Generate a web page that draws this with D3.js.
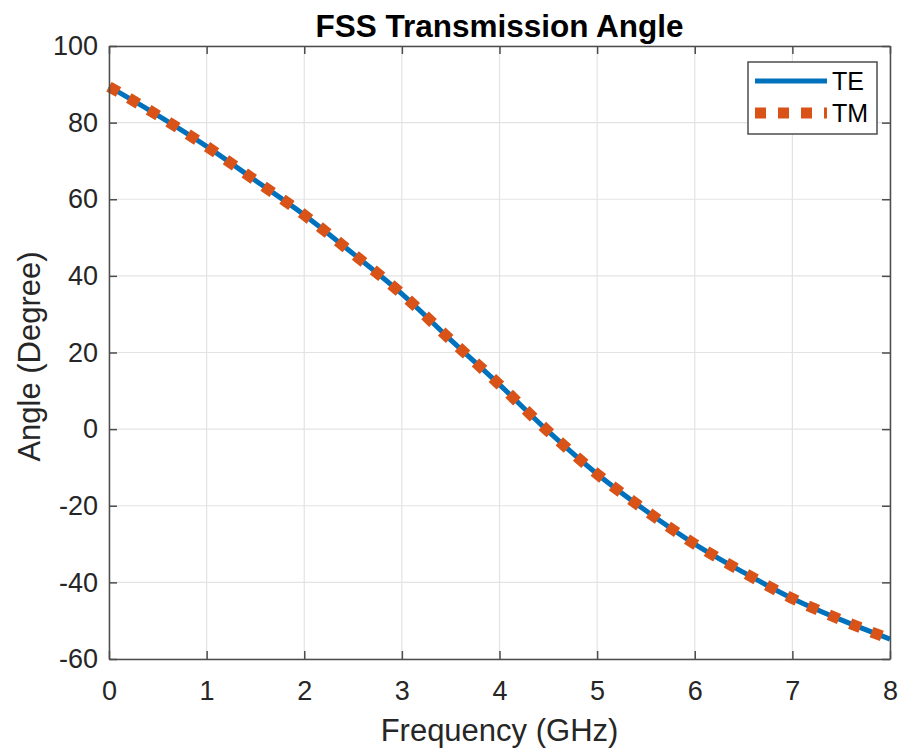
<!DOCTYPE html>
<html>
<head>
<meta charset="utf-8">
<script src="https://cdn.jsdelivr.net/npm/d3@7"></script>
<style>
  body { margin: 0; background: #fff; }
  text { font-family: "Liberation Sans", Arial, Helvetica, sans-serif; }
</style>
</head>
<body>
<div id="chart"></div>
<script>
// values (GHz, degree)
const freq = [0, 0.5, 1, 1.5, 2, 2.5, 3, 3.5, 4, 4.5, 5, 5.5, 6, 6.5, 7, 7.5, 8];
const teAngle = [89.4, 81.9, 73.8, 64.9, 55.9, 45.8, 35.3, 23.3, 11.6, -0.6, -11.7, -21.3, -30.0, -37.4, -44.2, -49.8, -54.8];
const tmAngle = [89.4, 81.9, 73.8, 64.9, 55.9, 45.8, 35.3, 23.3, 11.6, -0.6, -11.7, -21.3, -30.0, -37.4, -44.2, -49.8, -54.8];
const xTicks = [0, 1, 2, 3, 4, 5, 6, 7, 8];
const yTicks = [-60, -40, -20, 0, 20, 40, 60, 80, 100];
const seriesNames = ["TE", "TM"];

const W = 901, H = 749;
const margin = {top: 46, right: 11, bottom: 90, left: 109};
const width = W - margin.left - margin.right;
const height = H - margin.top - margin.bottom;

const svg = d3.select("#chart").append("svg")
    .attr("width", W)
    .attr("height", H);

const g = svg.append("g")
    .attr("transform", "translate(" + margin.left + "," + margin.top + ")");

const x = d3.scaleLinear().domain([0, 8]).range([0, width]);
const y = d3.scaleLinear().domain([-60, 100]).range([height, 0]);

// grid
g.append("g").selectAll("line").data(xTicks).join("line")
    .attr("x1", d => x(d)).attr("x2", d => x(d))
    .attr("y1", 0).attr("y2", height)
    .attr("stroke", "#e3e3e3").attr("stroke-width", 1.2);
g.append("g").selectAll("line").data(yTicks).join("line")
    .attr("x1", 0).attr("x2", width)
    .attr("y1", d => y(d)).attr("y2", d => y(d))
    .attr("stroke", "#e3e3e3").attr("stroke-width", 1.2);

// lines
const line = d3.line().curve(d3.curveMonotoneX);

g.append("path")
    .datum(freq.map((f, i) => [x(f), y(teAngle[i])]))
    .attr("d", line)
    .attr("fill", "none")
    .attr("stroke", "#0072BD")
    .attr("stroke-width", 5);

g.append("path")
    .datum(freq.map((f, i) => [x(f), y(tmAngle[i])]))
    .attr("d", line)
    .attr("fill", "none")
    .attr("stroke", "#D95319")
    .attr("stroke-width", 11)
    .attr("stroke-dasharray", "11 12");

// axes (ticks inside, box)
const axisColor = "#4d4d4d";
const tickLen = 8;
const fmt = d => String(d);   // plain hyphen minus like the reference
const xAxis = g.append("g")
    .attr("transform", "translate(0," + height + ")")
    .call(d3.axisBottom(x).tickValues(xTicks).tickFormat(fmt).tickSizeInner(-tickLen).tickSizeOuter(0));
const yAxis = g.append("g")
    .call(d3.axisLeft(y).tickValues(yTicks).tickFormat(fmt).tickSizeInner(-tickLen).tickSizeOuter(0));
const xTop = g.append("g")
    .call(d3.axisTop(x).tickValues(xTicks).tickSizeInner(-tickLen).tickSizeOuter(0).tickFormat(""));
const yRight = g.append("g")
    .attr("transform", "translate(" + width + ",0)")
    .call(d3.axisRight(y).tickValues(yTicks).tickSizeInner(-tickLen).tickSizeOuter(0).tickFormat(""));

[xAxis, yAxis, xTop, yRight].forEach(a => {
    a.select(".domain").attr("stroke", axisColor).attr("stroke-width", 1.5);
    a.selectAll(".tick line").attr("stroke", axisColor).attr("stroke-width", 1.5);
    a.selectAll(".tick text")
        .attr("fill", "#262626")
        .style("font-size", "27px")
        .style("font-family", "'Liberation Sans', Arial, sans-serif");
});
xAxis.selectAll(".tick text").attr("dy", "0.71em").attr("y", 22);
yAxis.selectAll(".tick text").attr("x", -11);

// title and labels
svg.append("text")
    .attr("x", margin.left + width / 2)
    .attr("y", 37)
    .attr("text-anchor", "middle")
    .style("font-size", "31.5px")
    .style("font-weight", "bold")
    .attr("fill", "#000")
    .text("FSS Transmission Angle");

svg.append("text")
    .attr("x", margin.left + width / 2)
    .attr("y", 741)
    .attr("text-anchor", "middle")
    .style("font-size", "31px")
    .attr("fill", "#262626")
    .text("Frequency (GHz)");

svg.append("text")
    .attr("transform", "translate(40," + (margin.top + height / 2 + 4) + ") rotate(-90)")
    .attr("text-anchor", "middle")
    .style("font-size", "31px")
    .attr("fill", "#262626")
    .text("Angle (Degree)");

// legend
const legend = svg.append("g").attr("transform", "translate(748,62)");
legend.append("rect")
    .attr("width", 129).attr("height", 72)
    .attr("fill", "#fff")
    .attr("stroke", axisColor).attr("stroke-width", 1.5);

const legendStyles = [
    {color: "#0072BD", width: 5, dash: null},
    {color: "#D95319", width: 11, dash: "11 12"}
];
seriesNames.forEach((name, i) => {
    const row = legend.append("g").attr("transform", "translate(0," + (19 + i * 32) + ")");
    row.append("line")
        .attr("x1", 7).attr("x2", 79)
        .attr("stroke", legendStyles[i].color)
        .attr("stroke-width", legendStyles[i].width)
        .attr("stroke-dasharray", legendStyles[i].dash);
    row.append("text")
        .attr("x", 84).attr("y", 9)
        .style("font-size", "25px")
        .attr("fill", "#000")
        .text(name);
});
</script>
</body>
</html>
